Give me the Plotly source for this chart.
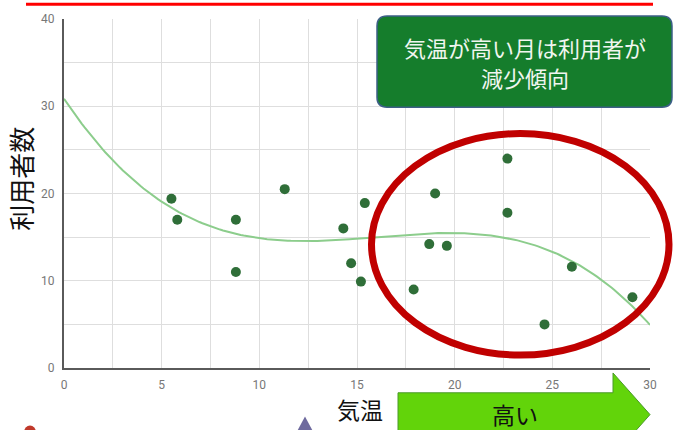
import numpy as np
import plotly.graph_objects as go

# data
temperature = [5.5, 5.8, 8.8, 8.8, 11.3, 14.3, 14.7, 15.2, 15.4, 17.9, 18.7, 19.0, 19.6, 22.7, 22.7, 24.6, 26.0, 29.1]
users = [19.4, 17.0, 17.0, 11.0, 20.5, 16.0, 12.0, 9.9, 18.9, 9.0, 14.2, 20.0, 14.0, 24.0, 17.8, 5.0, 11.6, 8.1]
x_ticks = [0, 5, 10, 15, 20, 25, 30]
y_ticks = [0, 10, 20, 30, 40]
trend_degree = 3
note_lines = ["気温が高い月は利用者が", "減少傾向"]

coef = np.polyfit(temperature, users, trend_degree)
tx = np.linspace(0, 30, 200)
ty = np.polyval(coef, tx)

JP = "Noto Sans CJK JP"

fig = go.Figure()
fig.add_trace(go.Scatter(x=tx, y=ty, mode="lines",
                         line=dict(color="#8ccd8c", width=2), hoverinfo="skip"))
fig.add_trace(go.Scatter(x=temperature, y=users, mode="markers",
                         marker=dict(color="#2f6e38", size=10)))

fig.update_layout(
    width=675, height=430,
    margin=dict(l=64, r=25, t=16, b=62),
    paper_bgcolor="white", plot_bgcolor="white",
    showlegend=False,
    font=dict(family="Roboto", color="#666666", size=12),
)
fig.update_xaxes(range=[0, 30], tickvals=x_ticks, showgrid=True, gridcolor="#dedede",
                 minor=dict(dtick=2.5, showgrid=True, gridcolor="#dedede"),
                 showline=True, linecolor="#5a5a5a", linewidth=2, zeroline=False,
                 ticks="", ticklabelstandoff=5, tickfont=dict(size=12, color="#777777"))
fig.update_yaxes(range=[0, 40], tickvals=y_ticks, showgrid=True, gridcolor="#dedede",
                 minor=dict(dtick=5, showgrid=True, gridcolor="#dedede"),
                 showline=True, linecolor="#5a5a5a", linewidth=2, zeroline=False,
                 ticks="", ticklabelstandoff=5, tickfont=dict(size=12, color="#777777"))

def px(p):
    return (p - 64) / 586

def py(p):
    return (368 - p) / 352

shapes = []
# red top line
shapes.append(dict(type="line", xref="paper", yref="paper",
                   x0=px(26), x1=px(653), y0=py(1), y1=py(1),
                   line=dict(color="#ff0000", width=3)))
# red ellipse
shapes.append(dict(type="circle", xref="paper", yref="paper",
                   x0=px(371.5), x1=px(669), y0=py(355), y1=py(131.5),
                   line=dict(color="#c00000", width=7)))
# rounded green box
bx0, bx1, by0, by1, r = 377, 672, 13, 105, 10
path = (f"M {px(bx0+r)} {py(by0)} L {px(bx1-r)} {py(by0)} "
        f"Q {px(bx1)} {py(by0)} {px(bx1)} {py(by0+r)} "
        f"L {px(bx1)} {py(by1-r)} Q {px(bx1)} {py(by1)} {px(bx1-r)} {py(by1)} "
        f"L {px(bx0+r)} {py(by1)} Q {px(bx0)} {py(by1)} {px(bx0)} {py(by1-r)} "
        f"L {px(bx0)} {py(by0+r)} Q {px(bx0)} {py(by0)} {px(bx0+r)} {py(by0)} Z")
shapes.append(dict(type="path", xref="paper", yref="paper", path=path,
                   fillcolor="#157d2c", line=dict(color="#3c5f86", width=1.5)))
# green arrow
ap = [(398, 393), (613, 393), (613, 373), (650, 415), (613, 457), (613, 437), (398, 437)]
apath = "M " + " L ".join(f"{px(a)} {py(b)}" for a, b in ap) + " Z"
shapes.append(dict(type="path", xref="paper", yref="paper", path=apath,
                   fillcolor="#62d40a", line=dict(color="#4a9a2a", width=1)))
# partial decorations at bottom
tri = [(305, 417), (320, 445), (290, 445)]
tpath = "M " + " L ".join(f"{px(a)} {py(b)}" for a, b in tri) + " Z"
shapes.append(dict(type="path", xref="paper", yref="paper", path=tpath,
                   fillcolor="#6e6a9e", line=dict(width=0)))
shapes.append(dict(type="circle", xref="paper", yref="paper",
                   x0=px(24), x1=px(36), y0=py(440), y1=py(426),
                   fillcolor="#c0392b", line=dict(width=0)))
fig.update_layout(shapes=shapes)

common = dict(xref="paper", yref="paper", showarrow=False, xanchor="center", yanchor="middle")
ann = [
    dict(text=note_lines[0], x=px(525), y=py(44),
         font=dict(family=JP, size=22, color="#f0f6f0"), **common),
    dict(text=note_lines[1], x=px(525), y=py(75),
         font=dict(family=JP, size=22, color="#f0f6f0"), **common),
    dict(text="利用者数", x=px(21), y=py(177), textangle=-90,
         font=dict(family=JP, size=26, color="#111111"), **common),
    dict(text="気温", x=px(360), y=py(409),
         font=dict(family=JP, size=23, color="#111111"), **common),
    dict(text="高い", x=px(515), y=py(414),
         font=dict(family=JP, size=23, color="#111111"), **common),
]
fig.update_layout(annotations=ann)

fig.write_html("out.html", config={"displayModeBar": False},
               post_script="document.body.style.margin='0';document.body.style.overflow='hidden';")
